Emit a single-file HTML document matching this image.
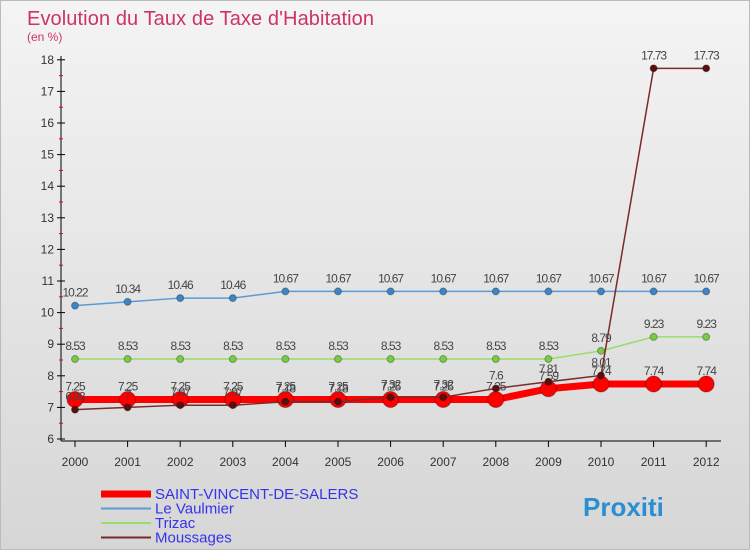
<!DOCTYPE html>
<html><head><meta charset="utf-8"><style>
body{margin:0;width:750px;height:550px;overflow:hidden;font-family:"Liberation Sans",sans-serif}
#wrap{position:relative;width:748px;height:548px;border:1px solid #bbb;background:linear-gradient(#f4f4f4,#d6d6d6)}
</style></head><body>
<div id="wrap">
<svg id="c" width="748" height="548" xmlns="http://www.w3.org/2000/svg">
<text x="26" y="24" font-size="20" fill="#cc3366" textLength="347">Evolution du Taux de Taxe d'Habitation</text>
<text x="26" y="40" font-size="12" fill="#cc3366">(en %)</text>
</svg>
</div>
<script>
const years=[2000,2001,2002,2003,2004,2005,2006,2007,2008,2009,2010,2011,2012];
const yTicks=[6,7,8,9,10,11,12,13,14,15,16,17,18];
const saint=[7.25,7.25,7.25,7.25,7.25,7.25,7.25,7.25,7.25,7.59,7.74,7.74,7.74];
const vaulmier=[10.22,10.34,10.46,10.46,10.67,10.67,10.67,10.67,10.67,10.67,10.67,10.67,10.67];
const trizac=[8.53,8.53,8.53,8.53,8.53,8.53,8.53,8.53,8.53,8.53,8.79,9.23,9.23];
const moussages=[6.93,7,7.07,7.07,7.18,7.18,7.32,7.32,7.6,7.81,8.01,17.73,17.73];
const svg=document.getElementById('c');const NS='http://www.w3.org/2000/svg';
const X=i=>74+i*52.6, Y=v=>438-(v-6)*31.6;
function mk(t,a,p){const e=document.createElementNS(NS,t);for(const k in a)e.setAttribute(k,a[k]);(p||svg).appendChild(e);return e;}
let ax=mk('line',{x1:60,y1:55,x2:60,y2:440,stroke:'#000'});


let xa=mk('line',{x1:60,y1:440,x2:720,y2:440,stroke:'#000'});


yTicks.forEach(v=>{mk('line',{x1:56,y1:Y(v),x2:64,y2:Y(v),stroke:'#000'});
 if(v<18)mk('line',{x1:58,y1:Y(v+0.5),x2:62,y2:Y(v+0.5),stroke:'#e00'});
 const t=mk('text',{x:53,y:Y(v)+4,'font-size':12,'text-anchor':'end',fill:'#333'});t.textContent=v;
 
 });
years.forEach((y,i)=>{mk('line',{x1:X(i),y1:440,x2:X(i),y2:446,stroke:'#000'});
 const t=mk('text',{x:X(i),y:465,'font-size':12,'text-anchor':'middle',fill:'#333'});t.textContent=y;
 
 });
function series(d,col,w,r,name,dot){const g=mk('g',{});
 
 
 mk('polyline',{points:d.map((v,i)=>X(i)+','+Y(v)).join(' '),fill:'none',stroke:col,'stroke-width':w},g);
 d.forEach((v,i)=>{const c=mk('circle',{cx:X(i),cy:Y(v),r:r,fill:dot,stroke:'rgba(0,0,0,0.3)'},g);
  
  
  const t=mk('text',{x:X(i),y:Y(v)-9,'font-size':12,'text-anchor':'middle',fill:'#444','letter-spacing':'-1'},g);t.textContent=v;
  
  });}
series(vaulmier,'#5a9bd5',1.5,3.5,'series-le-vaulmier','#3d85c6');
series(trizac,'#99dd66',1.5,3.5,'series-trizac','#77cc44');
series(saint,'#ff0000',7,8,'series-saint-vincent','#ff0000');
series(moussages,'#7a2a2a',1.5,3.5,'series-moussages','#5a0f0f');
const leg=[['SAINT-VINCENT-DE-SALERS','#ff0000',7],['Le Vaulmier','#5a9bd5',2],['Trizac','#99dd66',2],['Moussages','#7a2a2a',2]];
leg.forEach((l,i)=>{const g=mk('g',{});
 
 
 const y=493+i*14.5;mk('line',{x1:100,y1:y,x2:150,y2:y,stroke:l[1],'stroke-width':l[2]},g);
 const t=mk('text',{x:154,y:y+5,'font-size':15,fill:'#3333ee'},g);t.textContent=l[0];});
const lg=mk('text',{x:582,y:515,'font-size':26,'font-weight':'bold',fill:'#2a8fd0'});lg.textContent='Proxiti';


</script>
</body></html>
